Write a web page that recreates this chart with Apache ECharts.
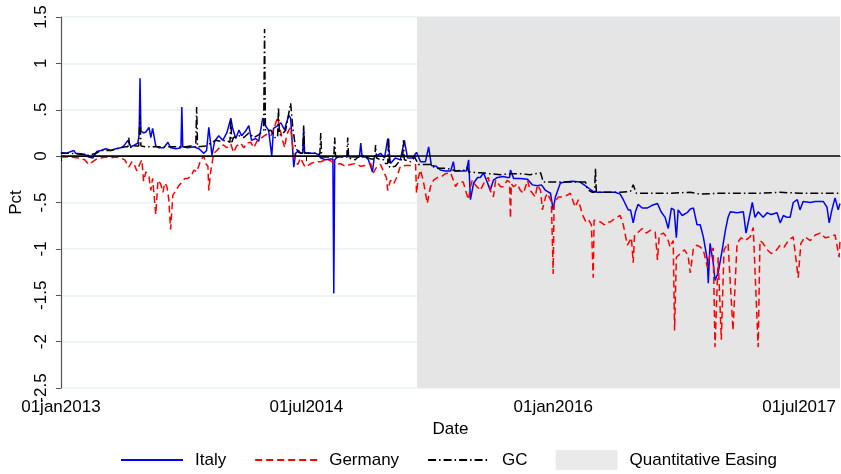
<!DOCTYPE html>
<html>
<head>
<meta charset="utf-8">
<script src="https://cdn.jsdelivr.net/npm/echarts@6/dist/echarts.min.js"></script>
<style>
  html, body { margin: 0; padding: 0; background: #fff; }
  #chart { width: 841px; height: 474px; }
</style>
</head>
<body>
<div id="chart"></div>
<script>
// x values are days since 01jan2013, y values in percent
const tickDays = [0, 546, 1095, 1642];
const qeStart = 792;
const lastDay = 1733;
const monthNames = ['jan','feb','mar','apr','may','jun','jul','aug','sep','oct','nov','dec'];

const italy = [
  [0,0.04],[11,0.03],[29,0.06],[33,0.03],[53,0.02],[62,-0.01],[71,-0.02],[80,0.05],[89,0.06],[100,0.08],
  [111,0.06],[122,0.08],[133,0.09],[140,0.11],[149,0.17],[156,0.10],[164,0.12],[171,0.14],[174,0.23],[176,0.84],
  [178,0.27],[184,0.25],[189,0.26],[196,0.31],[200,0.20],[204,0.30],[211,0.11],[218,0.09],[229,0.09],[238,0.15],
  [244,0.09],[256,0.08],[267,0.09],[269,0.53],[271,0.10],[282,0.09],[296,0.10],[307,0.08],[318,0.03],[324,0.06],
  [329,0.31],[336,0.01],[342,0.16],[351,0.22],[360,0.17],[369,0.25],[378,0.41],[382,0.30],[389,0.19],[396,0.28],
  [402,0.22],[411,0.27],[418,0.33],[424,0.17],[433,0.19],[440,0.16],[449,0.41],[456,0.32],[462,0.28],[469,0.00],
  [473,0.30],[480,0.32],[489,0.36],[498,0.28],[500,0.33],[507,0.44],[511,0.41],[518,-0.12],[522,0.03],[529,0.06],
  [533,0.03],[538,0.03],[540,0.30],[542,0.04],[556,0.03],[567,0.03],[573,0.01],[578,-0.02],[589,-0.04],[600,-0.03],
  [605,-0.03],[607,-1.48],[609,-0.04],[615,-0.01],[622,-0.01],[633,0.00],[644,-0.01],[655,-0.01],[664,-0.01],[667,0.14],
  [670,-0.01],[678,-0.01],[684,-0.04],[693,-0.17],[697,-0.01],[711,0.03],[720,-0.02],[727,0.19],[733,-0.08],[744,-0.02],
  [755,-0.04],[764,0.17],[771,-0.02],[782,-0.02],[791,0.04],[800,-0.06],[811,-0.06],[818,0.10],[824,-0.10],[835,-0.11],
  [844,-0.15],[855,-0.16],[867,-0.16],[871,-0.16],[873,-0.06],[876,-0.16],[893,-0.16],[902,-0.16],[907,-0.04],[911,-0.47],
  [918,-0.29],[927,-0.23],[933,-0.23],[940,-0.18],[949,-0.29],[955,-0.37],[962,-0.26],[971,-0.23],[984,-0.22],[993,-0.23],
  [998,-0.23],[1000,-0.15],[1007,-0.24],[1022,-0.24],[1038,-0.25],[1049,-0.31],[1060,-0.32],[1069,-0.31],[1078,-0.37],[1089,-0.40],
  [1095,-0.58],[1100,-0.44],[1111,-0.29],[1122,-0.28],[1138,-0.27],[1155,-0.28],[1167,-0.32],[1178,-0.36],[1184,-0.38],[1193,-0.39],
  [1211,-0.39],[1222,-0.39],[1233,-0.39],[1244,-0.41],[1251,-0.47],[1262,-0.58],[1267,-0.58],[1273,-0.72],[1278,-0.60],[1284,-0.52],
  [1293,-0.56],[1304,-0.56],[1315,-0.53],[1327,-0.51],[1335,-0.60],[1344,-0.66],[1351,-0.78],[1358,-0.56],[1364,-0.58],[1369,-0.88],
  [1373,-0.58],[1382,-0.64],[1393,-0.61],[1400,-0.57],[1407,-0.56],[1415,-0.74],[1422,-0.74],[1429,-0.87],[1438,-1.12],[1440,-1.37],
  [1444,-0.94],[1451,-1.15],[1455,-1.34],[1462,-1.26],[1471,-1.01],[1478,-0.80],[1484,-0.66],[1489,-0.60],[1504,-0.61],[1518,-0.60],
  [1524,-0.83],[1538,-0.50],[1544,-0.66],[1551,-0.60],[1555,-0.60],[1562,-0.66],[1571,-0.61],[1580,-0.63],[1593,-0.61],[1600,-0.72],
  [1607,-0.64],[1615,-0.66],[1622,-0.66],[1629,-0.50],[1638,-0.47],[1644,-0.58],[1651,-0.49],[1667,-0.50],[1678,-0.49],[1696,-0.49],
  [1704,-0.55],[1709,-0.72],[1715,-0.58],[1722,-0.45],[1729,-0.58],[1733,-0.51]
];

const germany = [
  [0,-0.01],[22,-0.01],[40,-0.02],[53,-0.04],[62,-0.09],[71,-0.06],[80,-0.03],[89,-0.02],[100,-0.01],[111,-0.02],
  [122,-0.01],[133,-0.02],[142,-0.04],[151,-0.12],[158,-0.06],[164,-0.10],[169,-0.16],[176,-0.08],[180,-0.04],[184,-0.27],
  [189,-0.17],[196,-0.22],[200,-0.37],[204,-0.24],[211,-0.63],[216,-0.26],[222,-0.30],[227,-0.39],[231,-0.29],[236,-0.33],
  [240,-0.47],[244,-0.79],[249,-0.42],[256,-0.37],[262,-0.32],[269,-0.28],[276,-0.24],[282,-0.24],[289,-0.22],[296,-0.15],
  [302,-0.17],[307,-0.10],[311,-0.04],[318,0.00],[322,-0.08],[327,-0.11],[329,-0.37],[333,-0.17],[340,0.03],[347,0.06],
  [356,0.11],[362,0.12],[369,0.09],[378,0.13],[384,0.04],[391,0.11],[400,0.14],[407,0.09],[413,0.14],[422,0.15],
  [429,0.09],[436,0.16],[440,0.14],[447,0.20],[453,0.22],[460,0.24],[467,0.22],[473,0.28],[482,0.42],[487,0.30],
  [493,0.17],[498,0.09],[502,0.23],[507,0.28],[511,0.31],[516,0.09],[520,-0.04],[527,-0.09],[533,-0.02],[540,-0.09],
  [544,-0.12],[556,-0.08],[567,-0.06],[578,-0.06],[589,-0.04],[600,-0.05],[611,-0.09],[622,-0.08],[633,-0.11],[644,-0.09],
  [655,-0.08],[667,-0.11],[678,-0.10],[689,-0.08],[695,-0.18],[702,-0.12],[711,-0.09],[720,-0.19],[724,-0.23],[727,-0.37],
  [733,-0.26],[740,-0.30],[747,-0.23],[755,-0.11],[767,-0.10],[778,-0.10],[789,-0.09],[791,-0.40],[795,-0.23],[800,-0.15],
  [807,-0.29],[815,-0.51],[822,-0.33],[829,-0.26],[838,-0.23],[844,-0.23],[855,-0.19],[867,-0.18],[878,-0.33],[884,-0.28],
  [895,-0.28],[902,-0.40],[907,-0.47],[911,-0.33],[915,-0.26],[922,-0.31],[933,-0.37],[944,-0.26],[951,-0.23],[955,-0.37],
  [962,-0.44],[967,-0.26],[978,-0.33],[984,-0.33],[993,-0.26],[998,-0.28],[1000,-0.67],[1002,-0.30],[1007,-0.33],[1015,-0.30],
  [1022,-0.37],[1029,-0.40],[1038,-0.26],[1044,-0.37],[1055,-0.44],[1060,-0.31],[1067,-0.37],[1071,-0.58],[1078,-0.44],[1082,-0.40],
  [1091,-0.49],[1093,-0.49],[1095,-1.27],[1097,-0.50],[1107,-0.44],[1115,-0.44],[1127,-0.42],[1133,-0.40],[1144,-0.55],[1151,-0.47],
  [1160,-0.63],[1167,-0.70],[1173,-0.68],[1180,-0.74],[1182,-0.74],[1184,-1.31],[1186,-0.69],[1200,-0.71],[1209,-0.74],[1215,-0.71],
  [1222,-0.71],[1233,-0.67],[1244,-0.64],[1251,-0.74],[1260,-0.96],[1269,-0.88],[1273,-1.15],[1276,-0.85],[1284,-0.82],[1293,-0.78],
  [1302,-0.83],[1311,-0.80],[1322,-0.82],[1327,-1.12],[1331,-0.85],[1340,-0.83],[1349,-0.88],[1355,-0.98],[1362,-0.91],[1365,-1.88],
  [1369,-1.09],[1378,-1.05],[1387,-1.01],[1395,-1.07],[1400,-1.26],[1407,-0.99],[1415,-0.96],[1422,-0.98],[1429,-1.01],[1438,-1.20],
  [1444,-1.05],[1451,-0.99],[1455,-2.06],[1462,-1.09],[1469,-1.98],[1475,-1.01],[1484,-0.94],[1495,-1.88],[1504,-0.94],[1513,-0.88],
  [1522,-0.91],[1533,-0.87],[1540,-0.77],[1551,-2.06],[1555,-0.91],[1562,-0.94],[1571,-1.01],[1580,-1.05],[1589,-1.03],[1600,-0.96],
  [1609,-0.98],[1618,-0.91],[1629,-0.87],[1640,-1.31],[1646,-0.94],[1655,-0.87],[1667,-0.91],[1678,-0.85],[1689,-0.83],[1700,-0.88],
  [1711,-0.87],[1722,-0.85],[1726,-0.83],[1731,-1.09],[1733,-0.91]
];

const gc = [
  [0,0.03],[22,0.03],[44,0.02],[62,0.01],[78,0.03],[89,0.06],[111,0.06],[133,0.09],[144,0.10],[149,0.10],
  [151,0.20],[153,0.09],[164,0.11],[173,0.11],[176,0.44],[178,0.11],[189,0.10],[211,0.10],[233,0.10],[256,0.10],
  [278,0.10],[289,0.11],[300,0.10],[302,0.53],[304,0.10],[322,0.11],[333,0.14],[344,0.17],[356,0.16],[367,0.17],
  [376,0.15],[378,0.39],[380,0.15],[384,0.20],[396,0.22],[407,0.20],[418,0.25],[429,0.20],[440,0.23],[451,0.28],
  [453,1.37],[455,0.27],[458,0.27],[467,0.28],[476,0.20],[482,0.20],[484,0.53],[486,0.23],[491,0.23],[500,0.28],
  [511,0.57],[516,0.30],[522,0.09],[529,0.04],[538,0.03],[540,0.33],[542,0.03],[556,0.03],[567,0.03],[576,0.02],
  [578,0.25],[580,-0.01],[589,-0.01],[600,-0.01],[607,-0.01],[609,0.20],[611,-0.01],[622,-0.01],[636,-0.01],[638,0.20],
  [640,-0.02],[655,-0.04],[667,0.02],[678,-0.01],[689,-0.03],[698,-0.03],[700,0.12],[702,-0.02],[711,-0.04],[718,-0.04],
  [722,-0.08],[727,-0.08],[729,0.20],[731,-0.12],[744,-0.11],[755,-0.04],[760,-0.04],[762,0.17],[764,-0.04],[778,-0.06],
  [787,-0.01],[795,-0.09],[811,-0.09],[822,-0.09],[833,-0.13],[855,-0.13],[867,-0.14],[878,-0.16],[900,-0.15],[904,-0.12],
  [907,-0.17],[933,-0.18],[955,-0.19],[978,-0.20],[1000,-0.19],[1022,-0.19],[1044,-0.20],[1067,-0.18],[1073,-0.28],[1089,-0.28],
  [1111,-0.28],[1133,-0.28],[1155,-0.28],[1167,-0.28],[1171,-0.36],[1182,-0.39],[1187,-0.39],[1189,-0.13],[1191,-0.39],[1200,-0.39],
  [1222,-0.39],[1244,-0.39],[1267,-0.38],[1273,-0.31],[1280,-0.40],[1311,-0.40],[1355,-0.40],[1400,-0.39],[1422,-0.41],[1467,-0.40],
  [1511,-0.40],[1555,-0.40],[1600,-0.39],[1644,-0.40],[1689,-0.40],[1733,-0.40]
];

const font = 'Liberation Sans, Arial, Helvetica, sans-serif';

// day number -> "01jan2013"
const dayLabel = (d) => {
  const dt = new Date(Date.UTC(2013, 0, 1) + Math.round(d) * 864e5);
  const dd = String(dt.getUTCDate()).padStart(2, '0');
  return dd + monthNames[dt.getUTCMonth()] + dt.getUTCFullYear();
};

// 0.5 -> ".5", -0.5 -> "-.5"
const pctLabel = (v) => {
  let s = String(Math.round(v * 10) / 10);
  return s.replace(/^0\./, '.').replace(/^-0\./, '-.');
};

const lineSeries = (name, data, color, type) => ({
  name: name,
  type: 'line',
  data: data,
  symbol: 'none',
  z: 3,
  lineStyle: { color: color, width: 1.5, type: type },
  itemStyle: { color: color }
});

const italySeries = lineSeries('Italy', italy, '#0000ff', 'solid');
italySeries.markLine = {
  silent: true,
  symbol: 'none',
  label: { show: false },
  lineStyle: { color: '#000', width: 1.5, type: 'solid' },
  data: [{ yAxis: 0 }]
};

const option = {
  animation: false,
  backgroundColor: '#fff',
  grid: { left: 60, right: 1, top: 17, bottom: 86 },
  legend: {
    left: 120,
    top: 450,
    padding: 0,
    itemWidth: 62,
    itemHeight: 20,
    itemGap: 28,
    textStyle: { fontFamily: font, fontSize: 17, color: '#000', padding: [0, 0, 0, 7] },
    data: [
      { name: 'Italy', itemStyle: { opacity: 0 } },
      { name: 'Germany', itemStyle: { opacity: 0 } },
      { name: 'GC', itemStyle: { opacity: 0 } },
      { name: 'Quantitative Easing', icon: 'rect', itemStyle: { color: '#e5e5e5' } }
    ]
  },
  xAxis: {
    type: 'value',
    min: 0,
    max: lastDay,
    name: 'Date',
    nameLocation: 'middle',
    nameGap: 14,
    nameTextStyle: { fontFamily: font, fontSize: 17, color: '#000' },
    axisLine: { lineStyle: { color: '#000', width: 1.2 } },
    axisTick: { show: true, length: 5, customValues: tickDays, lineStyle: { color: '#000' } },
    axisLabel: {
      customValues: tickDays,
      formatter: dayLabel,
      fontFamily: font, fontSize: 17, color: '#000', margin: 11
    },
    splitLine: { show: false }
  },
  yAxis: {
    type: 'value',
    min: -2.5,
    max: 1.5,
    interval: 0.5,
    name: 'Pct',
    nameLocation: 'middle',
    nameGap: 30,
    nameTextStyle: { fontFamily: font, fontSize: 17, color: '#000' },
    axisLine: { show: true, lineStyle: { color: '#555', width: 1.2 } },
    axisTick: { show: true, length: 5, lineStyle: { color: '#555' } },
    axisLabel: {
      rotate: 90,
      formatter: pctLabel,
      fontFamily: font, fontSize: 17, color: '#000', margin: 11
    },
    splitLine: { show: true, lineStyle: { color: '#eaf2f3', width: 1.5 } }
  },
  series: [
    {
      name: 'Quantitative Easing',
      type: 'scatter',
      data: [],
      z: 1,
      itemStyle: { color: '#e5e5e5' },
      markArea: {
        silent: true,
        itemStyle: { color: '#e5e5e5' },
        data: [[{ xAxis: qeStart }, { xAxis: lastDay }]]
      }
    },
    italySeries,
    lineSeries('Germany', germany, '#ff0000', [7, 4]),
    lineSeries('GC', gc, '#000000', [8, 3, 1.5, 3])
  ]
};

const chart = echarts.init(document.getElementById('chart'));
chart.setOption(option);
</script>
</body>
</html>
